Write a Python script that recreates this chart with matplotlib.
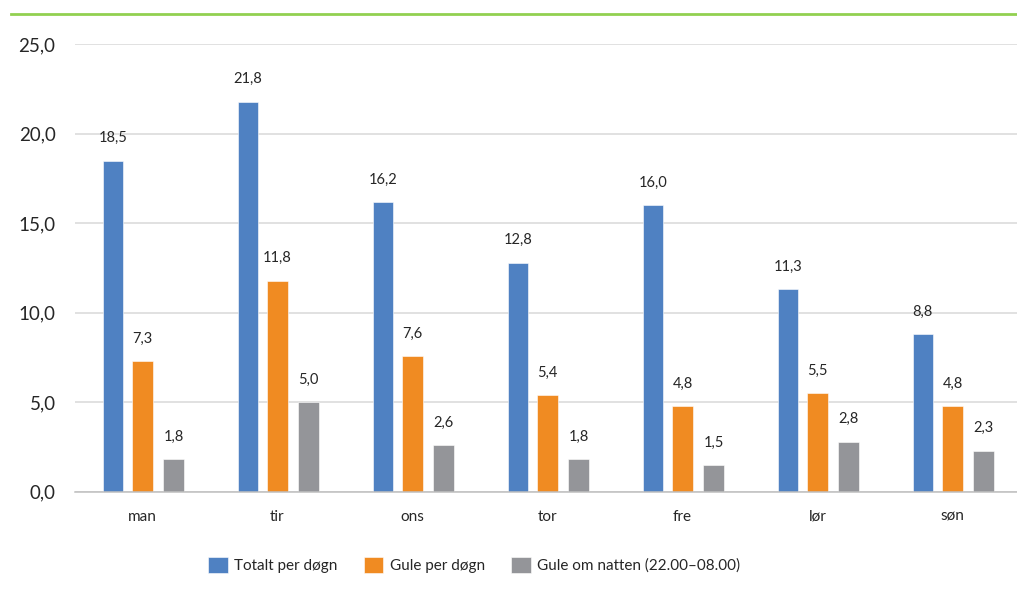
import numpy as np
import matplotlib
matplotlib.use("Agg")
import matplotlib.pyplot as plt
from matplotlib.lines import Line2D

plt.rcParams['font.family'] = ['Lato', 'DejaVu Sans']

# Data
days = ['man', 'tir', 'ons', 'tor', 'fre', 'lør', 'søn']
totalt = [18.5, 21.8, 16.2, 12.8, 16.0, 11.3, 8.8]
gule = [7.3, 11.8, 7.6, 5.4, 4.8, 5.5, 4.8]
gule_natt = [1.8, 5.0, 2.6, 1.8, 1.5, 2.8, 2.3]
series_names = ['Totalt per døgn', 'Gule per døgn', 'Gule om natten (22.00–08.00)']
colors = ['#4F81C2', '#F08B22', '#949599']

fig = plt.figure(figsize=(10.17, 5.91), dpi=100)
ax = fig.add_axes([75 / 1017, 1 - 491.7 / 591, 945 / 1017, (491.7 - 44.3) / 591])

x = np.arange(len(days))
width = 0.152
offsets = [-0.22, 0.0, 0.23]

for vals, off, col, name in zip([totalt, gule, gule_natt], offsets, colors, series_names):
    bars = ax.bar(x + off, vals, width, color=col, label=name, zorder=3,
                  edgecolor='white', linewidth=0.4)
    for b, v in zip(bars, vals):
        ax.annotate(f"{v:.1f}".replace('.', ','),
                    (b.get_x() + b.get_width() / 2, v),
                    xytext=(0, 11), textcoords='offset points',
                    ha='center', va='bottom', fontsize=10.5, color='#262626')

ax.set_xlim(-0.5, len(days) - 0.5)
ax.set_ylim(0, 25)
ax.set_yticks(np.arange(0, 26, 5))
ax.set_yticklabels([f"{t:.1f}".replace('.', ',') for t in np.arange(0, 26, 5)],
                   fontsize=13.5, color='#262626')
ax.set_xticks(x)
ax.set_xticklabels(days, fontsize=11, color='#262626')
ax.tick_params(axis='y', length=0, pad=14)
ax.tick_params(axis='x', length=0, pad=13)
ax.grid(axis='y', color='#D9D9D9', linewidth=1.1, zorder=0)
for s in ['left', 'right', 'top']:
    ax.spines[s].set_visible(False)
ax.spines['bottom'].set_color('#BFBFBF')
ax.spines['bottom'].set_linewidth(1.1)
ax.spines['bottom'].set_zorder(4)

# green line on top
fig.add_artist(Line2D([11 / 1017, 1.0], [1 - 14 / 591] * 2, color='#92D050', linewidth=2,
                      transform=fig.transFigure))

fig.legend(loc='center', bbox_to_anchor=(474 / 1017, 1 - 565 / 591), ncol=3,
           frameon=False, fontsize=11, handlelength=1.3, handleheight=1.3,
           handletextpad=0.4, columnspacing=1.7, labelcolor='#262626')

fig.savefig('out.png', dpi=100)
